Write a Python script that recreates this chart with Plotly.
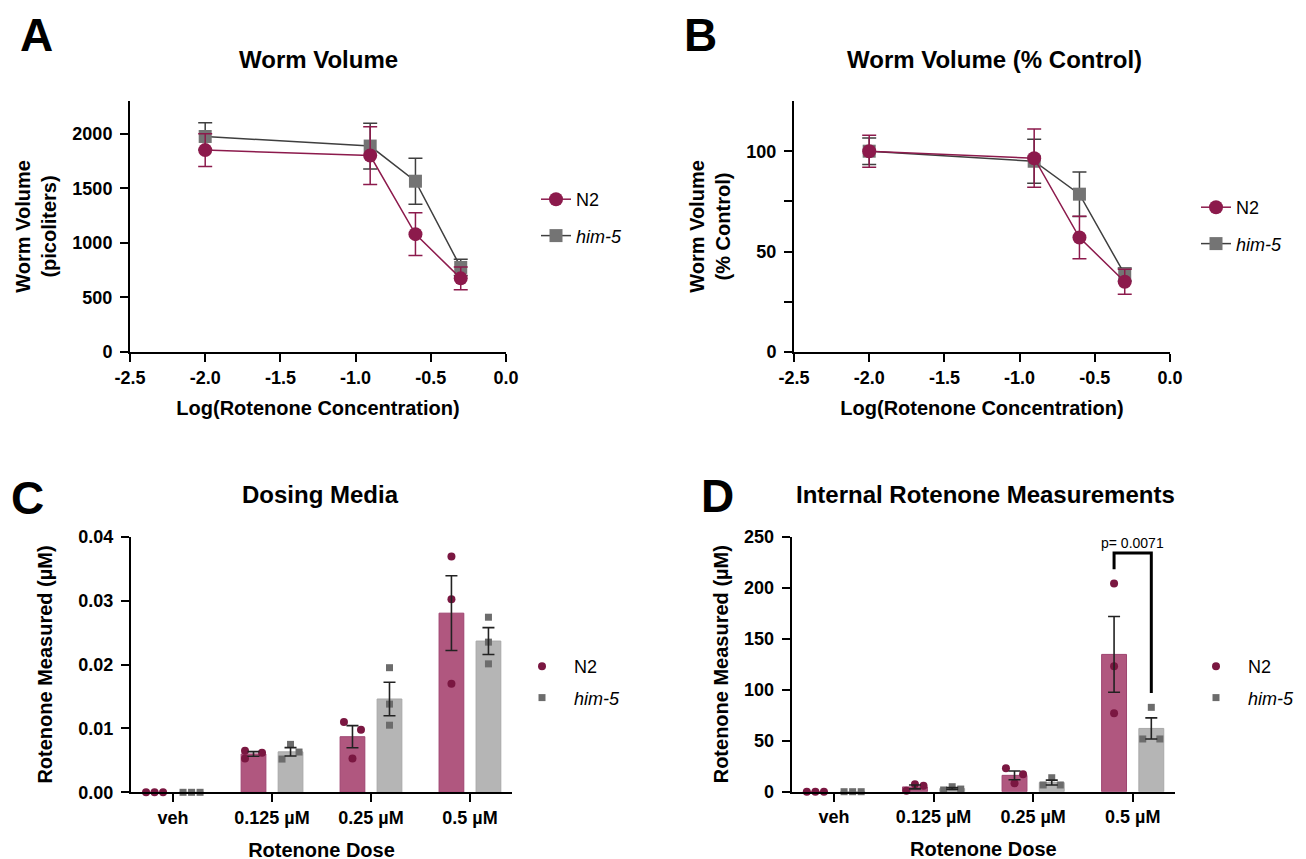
import numpy as np
import plotly.graph_objects as go

# ---------------- data ----------------
conc = [0.01, 0.125, 0.25, 0.5]          # rotenone concentration (uM)
logx = list(np.log10(conc))

vol_n2 = [1850, 1800, 1080, 675]
vol_n2_sem = [150, 265, 195, 105]
vol_him5 = [1975, 1887, 1565, 775]
vol_him5_sem = [125, 210, 210, 75]

pct_n2 = [100, 96.5, 57, 35]
pct_n2_sem = [8, 14.5, 10.6, 6.2]
pct_him5 = [100, 95, 78.6, 38.6]
pct_him5_sem = [6.6, 11, 11.1, 3.2]

doses = ["veh", "0.125 µM", "0.25 µM", "0.5 µM"]

media_n2 = [[0, 0, 0], [0.0065, 0.0053, 0.0062], [0.0110, 0.0098, 0.0053], [0.0369, 0.0302, 0.0170]]
media_him5 = [[0, 0, 0], [0.0075, 0.0052, 0.0063], [0.0195, 0.0138, 0.0105], [0.0274, 0.0235, 0.0201]]
media_n2_spread = [[-1, 0, 1], [-1, -1, 1], [-1, 1, 0], [0, 0, 0]]
media_him5_spread = [[-1, 0, 1], [0, -1, 1], [0, 0, 0], [0, 0, 0]]

int_n2 = [[0, 0, 0], [1.0, 7.2, 5.9], [22.9, 17.0, 8.2], [204, 122.9, 76.9]]
int_him5 = [[0, 0, 0], [1.7, 4.9, 2.6], [13.7, 6.6, 6.6], [82.7, 51.7, 51.7]]
int_n2_spread = [[-1, 0, 1], [-1, 0, 1], [-1, 1, 0], [0, 0, 0]]
int_him5_spread = [[-1, 0, 1], [-1, 0, 1], [0, -1, 1], [0, -1, 1]]
p_value_text = "p= 0.0071"

# ---------------- style ----------------
W, H = 1306, 859
PAGE_OFF = 8   # default page margin of the html body
FONT = "Liberation Sans"
N2_C = "#8c1a4c"
HIM_C = "#747474"
HIM_LINE = "#3f3f3f"
N2_BAR = "#b0577f"
N2_BAR_LINE = "#9e4470"
HIM_BAR = "#b5b5b5"
HIM_BAR_LINE = "#a8a8a8"
PT_N2 = "#7a1741"
PT_HIM = "#6c6c6c"
OFF = 0.187
BARW = 0.25
SPREAD = 0.086


def dx(px):
    return (px - PAGE_OFF) / W


def dy(py):
    return 1 - (py - PAGE_OFF) / H


bold = dict(family=FONT, size=18, color="black", weight="bold")

fig = go.Figure()

# ---- Panel A ----
fig.add_trace(go.Scatter(x=logx, y=vol_him5, mode="lines+markers", name="<i>him-5</i>",
                         line=dict(color=HIM_LINE, width=1.5),
                         marker=dict(color=HIM_C, size=13, symbol="square"),
                         error_y=dict(type="data", array=vol_him5_sem, color=HIM_LINE, thickness=1.5, width=7),
                         xaxis="x", yaxis="y", legend="legend", legendgroup="a2", legendrank=2))
fig.add_trace(go.Scatter(x=logx, y=vol_n2, mode="lines+markers", name="N2",
                         line=dict(color=N2_C, width=1.5),
                         marker=dict(color=N2_C, size=14, symbol="circle"),
                         error_y=dict(type="data", array=vol_n2_sem, color=N2_C, thickness=1.5, width=7),
                         xaxis="x", yaxis="y", legend="legend", legendgroup="a1", legendrank=1))

# ---- Panel B ----
fig.add_trace(go.Scatter(x=logx, y=pct_him5, mode="lines+markers", name="<i>him-5</i>",
                         line=dict(color=HIM_LINE, width=1.5),
                         marker=dict(color=HIM_C, size=13, symbol="square"),
                         error_y=dict(type="data", array=pct_him5_sem, color=HIM_LINE, thickness=1.5, width=7),
                         xaxis="x2", yaxis="y2", legend="legend2", legendgroup="b2", legendrank=2))
fig.add_trace(go.Scatter(x=logx, y=pct_n2, mode="lines+markers", name="N2",
                         line=dict(color=N2_C, width=1.5),
                         marker=dict(color=N2_C, size=14, symbol="circle"),
                         error_y=dict(type="data", array=pct_n2_sem, color=N2_C, thickness=1.5, width=7),
                         xaxis="x2", yaxis="y2", legend="legend2", legendgroup="b1", legendrank=1))


def bar_panel(vals_n2, vals_him, spr_n2, spr_him, xa, ya, leg):
    idx = np.arange(len(doses))
    groups = [(vals_n2, spr_n2, -OFF, N2_BAR, N2_BAR_LINE, PT_N2, "circle", "N2", 8),
              (vals_him, spr_him, OFF, HIM_BAR, HIM_BAR_LINE, PT_HIM, "square", "<i>him-5</i>", 7)]
    for vals, spr, off, fc, lc, pc, sym, name, msz in groups:
        arr = np.array(vals, dtype=float)
        means = arr.mean(axis=1)
        fig.add_trace(go.Bar(x=idx + off, y=means, width=BARW, marker=dict(color=fc, line=dict(color=lc, width=1)),
                             showlegend=False, xaxis=xa, yaxis=ya, hoverinfo="skip"))
    for gi, (vals, spr, off, fc, lc, pc, sym, name, msz) in enumerate(groups):
        arr = np.array(vals, dtype=float)
        xs = (idx[:, None] + off + np.array(spr) * SPREAD).ravel()
        fig.add_trace(go.Scatter(x=xs, y=arr.ravel(), mode="markers", name=name,
                                 marker=dict(color=pc, size=msz, symbol=sym),
                                 xaxis=xa, yaxis=ya, legend=leg, legendgroup=leg + str(gi),
                                 cliponaxis=False))
    for vals, spr, off, fc, lc, pc, sym, name, msz in groups:
        arr = np.array(vals, dtype=float)
        means = arr.mean(axis=1)
        sems = arr.std(axis=1, ddof=1) / np.sqrt(arr.shape[1])
        show = means > 0
        fig.add_trace(go.Scatter(x=(idx + off)[show], y=means[show], mode="markers",
                                 marker=dict(size=1, color="rgba(0,0,0,0)"),
                                 error_y=dict(type="data", array=sems[show], color="#222222", thickness=1.6, width=6),
                                 showlegend=False, xaxis=xa, yaxis=ya, hoverinfo="skip"))


bar_panel(media_n2, media_him5, media_n2_spread, media_him5_spread, "x3", "y3", "legend3")
bar_panel(int_n2, int_him5, int_n2_spread, int_him5_spread, "x4", "y4", "legend4")

# significance bracket in D
n2_top = max(int_n2[3])
him_top = max(int_him5[3])
br_top = max(n2_top, him_top) + 30
xl, xr = 3 - OFF, 3 + OFF
fig.add_shape(type="path", xref="x4", yref="y4",
              path=f"M {xl} {n2_top + 14} L {xl} {br_top} L {xr} {br_top} L {xr} {him_top + 14}",
              line=dict(color="black", width=3))
fig.add_annotation(x=3, y=br_top, xref="x4", yref="y4", text=p_value_text, showarrow=False,
                   yanchor="bottom", yshift=0, font=dict(family=FONT, size=14, color="black"))

# ---------------- axes ----------------
axis_common = dict(showline=True, linewidth=2, linecolor="black", ticks="outside", tickwidth=2,
                   ticklen=8, tickcolor="black", showgrid=False, zeroline=False, automargin=False,
                   tickfont=bold, title_font=dict(family=FONT, size=20, color="black", weight="bold"))

xlog_vals = [-2.5, -2.0, -1.5, -1.0, -0.5, 0.0]
xlog_text = ["-2.5", "-2.0", "-1.5", "-1.0", "-0.5", "0.0"]

fig.update_layout(
    xaxis=dict(axis_common, domain=[dx(130), dx(506)], anchor="y", range=[-2.5, 0],
               tickvals=xlog_vals, ticktext=xlog_text, title_text="Log(Rotenone Concentration)", title_standoff=14),
    yaxis=dict(axis_common, domain=[dy(352), dy(101)], anchor="x", range=[0, 2300], dtick=500,
               ticklabelstandoff=4, title_text="Worm Volume<br>(picoliters)", title_standoff=10),
    xaxis2=dict(axis_common, domain=[dx(794), dx(1170)], anchor="y2", range=[-2.5, 0],
                tickvals=xlog_vals, ticktext=xlog_text, title_text="Log(Rotenone Concentration)", title_standoff=14),
    yaxis2=dict(axis_common, domain=[dy(352), dy(101)], anchor="x2", range=[0, 125], tickvals=[0, 50, 100],
                minor=dict(tickvals=[25, 75], ticks="outside", ticklen=8, tickwidth=2, tickcolor="black"),
                ticklabelstandoff=4, title_text="Worm Volume<br>(% Control)", title_standoff=10),
    xaxis3=dict(axis_common, domain=[dx(131), dx(512)], anchor="y3", range=[-0.425, 3.425],
                tickvals=[0, 1, 2, 3], ticktext=doses, title_text="Rotenone Dose", title_standoff=16),
    yaxis3=dict(axis_common, domain=[dy(792.3), dy(536.7)], anchor="x3", range=[0, 0.04], dtick=0.01,
                ticklabelstandoff=4, tickformat=".2f", title_text="Rotenone Measured (µM)", title_standoff=20),
    xaxis4=dict(axis_common, domain=[dx(791.7), dx(1175)], anchor="y4", range=[-0.425, 3.425],
                tickvals=[0, 1, 2, 3], ticktext=doses, title_text="Rotenone Dose", title_standoff=16),
    yaxis4=dict(axis_common, domain=[dy(791.7), dy(536.7)], anchor="x4", range=[0, 250], dtick=50,
                ticklabelstandoff=4, title_text="Rotenone Measured (µM)", title_standoff=10),
)

leg_common = dict(xanchor="left", yanchor="top", bgcolor="rgba(0,0,0,0)", tracegroupgap=10,
                  font=dict(family=FONT, size=18, color="black"), traceorder="grouped")
fig.update_layout(
    legend=dict(leg_common, x=dx(536), y=dy(181)),
    legend2=dict(leg_common, x=dx(1196), y=dy(189)),
    legend3=dict(leg_common, x=dx(510), y=dy(648), itemwidth=54, tracegroupgap=5),
    legend4=dict(leg_common, x=dx(1184), y=dy(648), itemwidth=54, tracegroupgap=5),
)

# titles & panel letters
title_font = dict(family=FONT, size=24, color="black", weight="bold")
for txt, x, y in [("Worm Volume", 318, 60), ("Worm Volume (% Control)", 994, 60),
                  ("Dosing Media", 320, 494), ("Internal Rotenone Measurements", 985, 494)]:
    fig.add_annotation(x=dx(x), y=dy(y), xref="paper", yref="paper", text=txt, showarrow=False,
                       xanchor="center", yanchor="middle", font=title_font)
letter_font = dict(family=FONT, size=46, color="black", weight="bold")
for txt, x, y in [("A", 36, 35), ("B", 700, 35), ("C", 27, 498), ("D", 717, 496)]:
    fig.add_annotation(x=dx(x), y=dy(y), xref="paper", yref="paper", text=txt, showarrow=False,
                       xanchor="center", yanchor="middle", font=letter_font)

fig.update_layout(width=W, height=H, margin=dict(l=0, r=0, t=0, b=0, autoexpand=False),
                  paper_bgcolor="white", plot_bgcolor="white", barmode="overlay")

fig.write_html("out.html")
